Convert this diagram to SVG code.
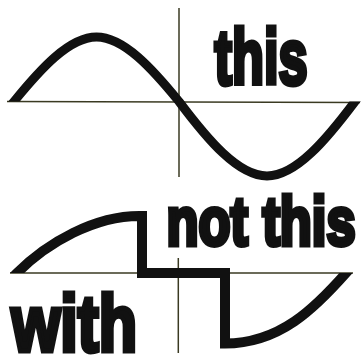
<svg xmlns="http://www.w3.org/2000/svg" width="363" height="356" viewBox="0 0 363 356">
  <style>
    .axis { stroke: #3a3a22; stroke-width: 1.5; fill: none; }
    .wave { stroke: #111; fill: none; stroke-linejoin: miter; stroke-miterlimit: 10; }
    .label { font-family: "Liberation Sans", Arial, sans-serif; font-weight: bold; fill: #111; stroke: #111; stroke-width: 5; stroke-linejoin: miter; }
  </style>
  <defs>
    <clipPath id="clipTop">
      <path d="M0,0 H300 V101.5 H363 V356 H60 V101.5 H0 Z"/>
    </clipPath>
    <clipPath id="clipBottom">
      <path d="M0,0 H300 V273 H363 V356 H60 V273 H0 Z"/>
    </clipPath>
  </defs>
  <rect width="363" height="356" fill="#fff"/>

  <g id="top-figure">
    <line class="axis" x1="7" y1="101.5" x2="360" y2="102.5"/>
    <line class="axis" x1="179" y1="8" x2="179" y2="177"/>
    <path class="wave" stroke-width="9" clip-path="url(#clipTop)" d="M10.2,106.1 L14,101.5 C40.9,68.5 69.4,37 96.5,37 C123.6,37 152.1,68.5 179,101.5 C207.7,139.7 238.1,176 267,176 C295.9,176 326.3,139.7 355,101.5 L358.6,96.7"/>
    <text class="label" transform="translate(214.5,83.5) scale(0.68,1)" font-size="77">this</text>
  </g>

  <g id="bottom-figure">
    <line class="axis" x1="10" y1="273" x2="353" y2="273"/>
    <line class="axis" x1="178.3" y1="258" x2="178.3" y2="353"/>
    <path class="wave" stroke-width="10" clip-path="url(#clipBottom)" d="M12,278 L17,273 C47,243 95,215 142,216 L142,273 L225,273 L225,343.5 C280,343.5 315,308 346,273 L350,268.5"/>
    <text class="label" transform="translate(166.5,244.5) scale(0.77,1)" font-size="68">not this</text>
    <text class="label" transform="translate(11.5,350.5) scale(0.785,1)" font-size="80">with</text>
  </g>
</svg>
